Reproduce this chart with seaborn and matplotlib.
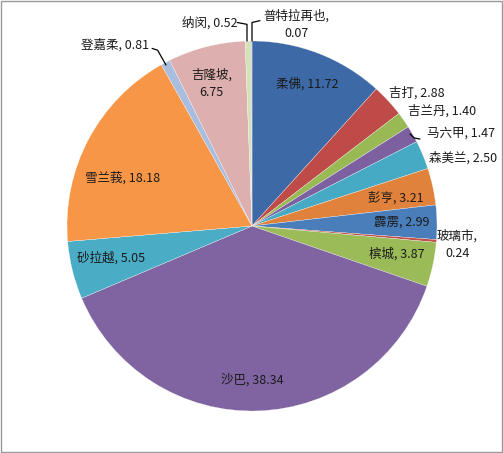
import matplotlib
matplotlib.use("Agg")
import matplotlib.pyplot as plt
import seaborn as sns
import numpy as np

# 各州比例 (%), 从12点钟方向顺时针
states = ['柔佛', '吉打', '吉兰丹', '马六甲', '森美兰', '彭亨', '霹雳', '玻璃市',
          '槟城', '沙巴', '砂拉越', '雪兰莪', '登嘉柔', '吉隆坡', '纳闵', '普特拉再也']
values = [11.72, 2.88, 1.40, 1.47, 2.50, 3.21, 2.99, 0.24,
          3.87, 38.34, 5.05, 18.18, 0.81, 6.75, 0.52, 0.07]
colors = ['#3D69A6', '#BE4B48', '#98B954', '#7D60A0', '#46AAC5', '#E0823C', '#4A7EBB', '#C0504D',
          '#9BBB59', '#8064A2', '#4BACC6', '#F79646', '#A9BEDE', '#DDAFAE', '#D4E2BA', '#BDB0D0']
# 标签位置 (相对于圆心, 半径=1)
label_pos = [(0.30, 0.77), (0.89, 0.72), (1.03, 0.62), (1.13, 0.50), (1.14, 0.37),
             (0.78, 0.15), (0.81, 0.02), (1.11, -0.10), (0.78, -0.15), (0.0, -0.83),
             (-0.76, -0.17), (-0.70, 0.26), (-0.74, 0.98), (-0.22, 0.77), (-0.23, 1.10),
             (0.24, 1.09)]
two_line = {'玻璃市', '吉隆坡', '普特拉再也'}

sns.set_style("white")
plt.rcParams['font.family'] = ['Noto Sans CJK SC', 'DejaVu Sans']

fig = plt.figure(figsize=(5.03, 4.53), dpi=100)
ax = fig.add_axes([0, 0, 1, 1])
ax.pie(values, colors=colors, startangle=90, counterclock=False, radius=1,
       wedgeprops=dict(linewidth=0.2, edgecolor='white'))

for name, v, (x, y) in zip(states, values, label_pos):
    sep = ',\n' if name in two_line else ', '
    ax.text(x, y, f'{name}{sep}{v:.2f}', ha='center', va='center',
            fontsize=9, color='#1a1a1a', linespacing=1.4)

# 引导线
leaders = [
    [(0.854, 0.497), (0.876, 0.476), (0.908, 0.470)],          # 马六甲
    [(-0.54, 0.96), (-0.51, 0.95), (-0.465, 0.87)],             # 登嘉柔
    [(-0.08, 1.10), (-0.027, 1.09), (-0.027, 1.0)],             # 纳闵
    [(0.043, 1.11), (0.0, 1.10), (0.0, 1.0)],                   # 普特拉再也
]
for pts in leaders:
    xs, ys = zip(*pts)
    ax.plot(xs, ys, color='black', lw=0.9)

ax.set_xlim(-252 / 185, 251 / 185)
ax.set_ylim(-227 / 185, 226 / 185)
ax.set_aspect('equal')
ax.axis('off')

fig.patches.append(plt.Rectangle((0.002, 0.002), 0.996, 0.996, transform=fig.transFigure,
                                 fill=False, edgecolor='#999999', lw=1))
fig.savefig('out.png', dpi=100)
